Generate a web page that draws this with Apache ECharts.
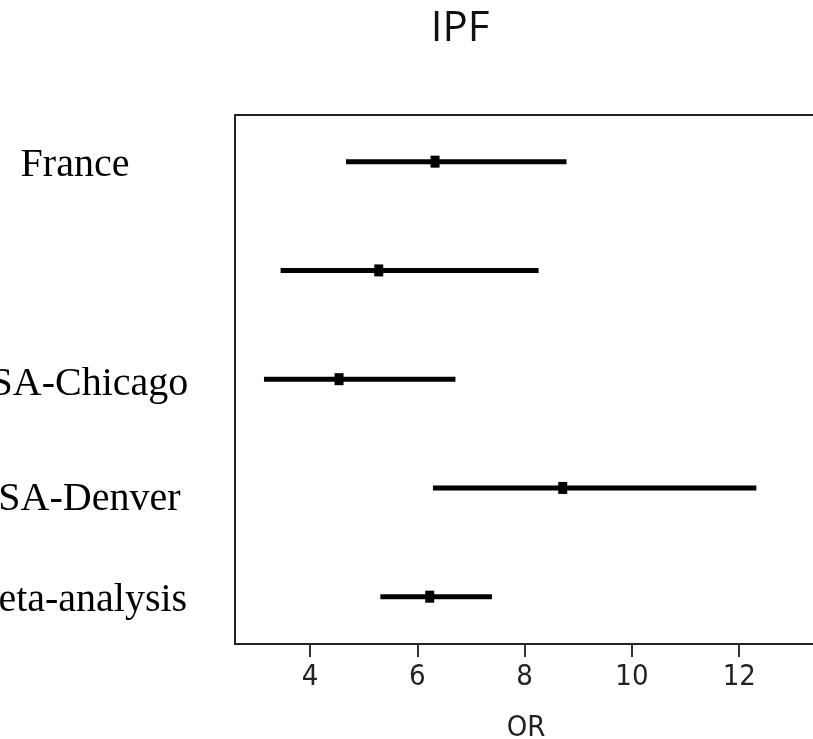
<!DOCTYPE html>
<html>
<head>
<meta charset="utf-8">
<script src="https://cdn.jsdelivr.net/npm/echarts@6/dist/echarts.min.js"></script>
<style>html,body{margin:0;padding:0;background:#fff;}#c{width:813px;height:739px;}</style>
</head>
<body>
<div id="c"></div>
<script>
const categories = ['France', '', 'USA-Chicago', 'USA-Denver', 'Meta-analysis'];
const orValues = [6.33, 5.28, 4.54, 8.71, 6.23];
const lowerCI = [4.67, 3.45, 3.14, 6.29, 5.31];
const upperCI = [8.78, 8.26, 6.71, 12.32, 7.39];
const xTicks = [4, 6, 8, 10, 12];
const chartTitle = 'IPF';
const xAxisName = 'OR';

const n = categories.length;
const rowPos = categories.map((c, i) => n - i);
const labelShift = [4, 4, 5, 12, 4];

const ciData = categories.map((c, i) => [lowerCI[i], upperCI[i], rowPos[i]]);
const ptData = categories.map((c, i) => [orValues[i], rowPos[i]]);

const rich = {};
labelShift.forEach((s, i) => {
  rich['s' + i] = {
    fontFamily: 'Liberation Serif, serif', fontSize: 40, color: '#000',
    padding: [s * 2, 0, 0, 0]
  };
});

const narrowFont = 'DejaVu Sans Condensed, Liberation Sans Narrow, sans-serif';

const chart = echarts.init(document.getElementById('c'), null, {renderer: 'canvas'});
chart.setOption({
  backgroundColor: '#fff',
  animation: false,
  title: {
    text: chartTitle, left: 455, top: 3, textAlign: 'center',
    textStyle: {fontFamily: 'Open Sans', fontWeight: 'normal', fontSize: 42, color: '#111'}
  },
  grid: {left: 235, right: -4, top: 115, bottom: 95, containLabel: false, outerBoundsMode: 'none',
    show: true, borderColor: '#222', borderWidth: 2, backgroundColor: 'transparent'},
  xAxis: {
    type: 'value', min: 2.6, max: 13.45,
    name: xAxisName, nameLocation: 'middle', nameGap: 70,
    nameTextStyle: {fontFamily: narrowFont, fontSize: 29, color: '#222'},
    axisLine: {show: false},
    axisTick: {show: true, customValues: xTicks, length: 13, lineStyle: {color: '#333', width: 2}},
    axisLabel: {show: true, customValues: xTicks, margin: 19, fontFamily: narrowFont, fontSize: 29, color: '#222'},
    splitLine: {show: false}
  },
  yAxis: {
    type: 'value', min: 0.565, max: 5.429,
    axisLine: {show: false}, axisTick: {show: false}, splitLine: {show: false},
    axisLabel: {
      show: true, customValues: rowPos, margin: 160, align: 'center',
      fontFamily: 'Liberation Serif, serif', fontSize: 40, color: '#000',
      formatter: function (v) { const i = n - Math.round(v); return '{s' + i + '|' + categories[i] + '}'; },
      rich: rich
    }
  },
  series: [
    {
      type: 'custom', data: ciData, silent: true,
      encode: {x: [0, 1], y: 2},
      renderItem: function (params, api) {
        const a = api.coord([api.value(0), api.value(2)]);
        const b = api.coord([api.value(1), api.value(2)]);
        return {type: 'line', shape: {x1: a[0], y1: a[1], x2: b[0], y2: b[1]}, style: {stroke: '#000', lineWidth: 5}};
      }
    },
    {
      type: 'scatter', data: ptData, symbol: 'rect', symbolSize: [9, 12],
      itemStyle: {color: '#000', opacity: 1}, silent: true, z: 5
    }
  ]
});
</script>
</body>
</html>
